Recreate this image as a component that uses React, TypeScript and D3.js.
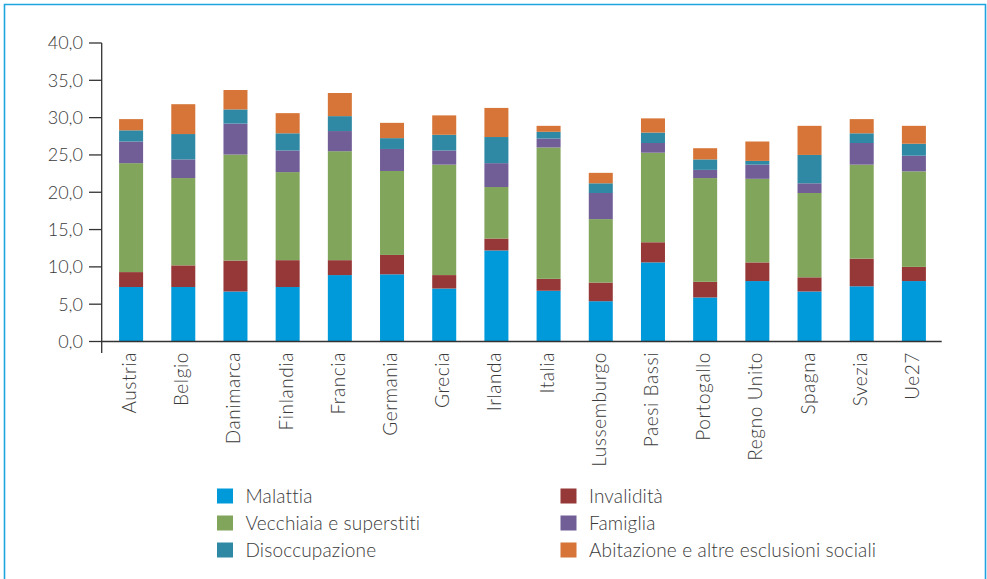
import React from "react";
import * as d3 from "d3";

const categories = [
  "Austria", "Belgio", "Danimarca", "Finlandia", "Francia", "Germania", "Grecia", "Irlanda",
  "Italia", "Lussemburgo", "Paesi Bassi", "Portogallo", "Regno Unito", "Spagna", "Svezia", "Ue27",
];

const malattia = [7.3, 7.3, 6.7, 7.3, 8.9, 9.0, 7.1, 12.2, 6.8, 5.4, 10.6, 5.9, 8.1, 6.7, 7.4, 8.1];
const invalidita = [2.0, 2.9, 4.15, 3.6, 2.0, 2.6, 1.8, 1.6, 1.6, 2.5, 2.7, 2.1, 2.5, 1.9, 3.7, 1.9];
const vecchiaia = [14.6, 11.7, 14.2, 11.8, 14.6, 11.25, 14.8, 6.9, 17.6, 8.5, 12.0, 13.9, 11.2, 11.3, 12.6, 12.8];
const famiglia = [2.9, 2.5, 4.15, 2.9, 2.7, 2.95, 1.9, 3.2, 1.2, 3.5, 1.3, 1.1, 1.9, 1.3, 2.9, 2.1];
const disoccupazione = [1.5, 3.4, 1.9, 2.3, 2.0, 1.45, 2.1, 3.5, 0.9, 1.3, 1.4, 1.4, 0.5, 3.8, 1.3, 1.6];
const abitazione = [1.5, 4.0, 2.6, 2.7, 3.1, 2.05, 2.6, 3.9, 0.8, 1.4, 1.9, 1.5, 2.6, 3.9, 1.9, 2.4];

const yTicks = [0, 5, 10, 15, 20, 25, 30, 35, 40];

const seriesNames = [
  "Malattia",
  "Invalidità",
  "Vecchiaia e superstiti",
  "Famiglia",
  "Disoccupazione",
  "Abitazione e altre esclusioni sociali",
];
const seriesValues = [malattia, invalidita, vecchiaia, famiglia, disoccupazione, abitazione];
const seriesColors = ["#009ada", "#963838", "#82a55c", "#715e97", "#2f89a4", "#d67537"];

// legend layout: column-major order as in the reference
const legendOrder = [0, 2, 4, 1, 3, 5];

const FONT = "Lato, 'Open Sans', sans-serif";
const TEXT = "#3a3a3a";

export default function App() {
  const W = 987;
  const H = 579;

  const x = d3
    .scaleBand<string>()
    .domain(categories)
    .range([105, 940])
    .paddingInner(0.54)
    .paddingOuter(0.27);

  const y = d3.scaleLinear().domain([0, 40]).range([341.5, 43]);

  const rows = categories.map((c, i) => {
    const r: any = { cat: c };
    seriesNames.forEach((s, k) => (r[s] = seriesValues[k][i]));
    return r;
  });
  const stacked = d3.stack<any>().keys(seriesNames)(rows);

  const axisX0 = 101.7;
  const axisX1 = 941.7;
  const fmt = (v: number) => v.toFixed(1).replace(".", ",");

  return (
    <svg
      width={W}
      height={H}
      style={{ position: "absolute", left: 0, top: 0, background: "#fff" }}
      fontFamily={FONT}
    >
      <rect x={0} y={0} width={W} height={H} fill="#fff" />
      {/* frame */}
      <path
        d={`M4.5,${H + 2} L4.5,4.5 L985.5,4.5 L985.5,${H + 2}`}
        fill="none"
        stroke="#1ea5e0"
        strokeWidth={1.6}
      />

      {/* bars */}
      {stacked.map((layer, k) => (
        <g key={k} fill={seriesColors[k]}>
          {layer.map((d, i) => (
            <rect
              key={i}
              x={x(categories[i])}
              y={y(d[1])}
              width={x.bandwidth()}
              height={y(d[0]) - y(d[1])}
            />
          ))}
        </g>
      ))}

      {/* y axis */}
      <g stroke="#333" strokeWidth={1.3}>
        <line x1={axisX0} x2={axisX0} y1={y(40)} y2={353} />
        {yTicks.map((t) => (
          <line key={t} x1={89} x2={axisX0} y1={y(t)} y2={y(t)} />
        ))}
        <line x1={axisX0} x2={axisX1} y1={y(0)} y2={y(0)} />
      </g>
      {yTicks.map((t) => (
        <text
          key={t}
          x={83}
          y={y(t)}
          dy="0.36em"
          textAnchor="end"
          fontSize={18}
          fontWeight={300}
          fill={TEXT}
        >
          {fmt(t)}
        </text>
      ))}

      {/* category labels */}
      {categories.map((c) => {
        const cx = (x(c) as number) + x.bandwidth() / 2;
        return (
          <text
            key={c}
            transform={`translate(${cx + 5},352) rotate(-90)`}
            textAnchor="end"
            fontSize={19}
            letterSpacing={0.6}
            fontWeight={300}
            fill={TEXT}
          >
            {c}
          </text>
        );
      })}

      {/* legend */}
      {legendOrder.map((k, idx) => {
        const col = Math.floor(idx / 3);
        const row = idx % 3;
        const lx = col === 0 ? 217 : 560.5;
        const ly = 496.5 + row * 27;
        return (
          <g key={k}>
            <rect x={lx} y={ly - 8} width={16} height={15} fill={seriesColors[k]} />
            <text
              x={lx + 28.5}
              y={ly}
              dy="0.36em"
              fontSize={19}
              letterSpacing={0.15}
              fontWeight={300}
              fill={TEXT}
            >
              {seriesNames[k]}
            </text>
          </g>
        );
      })}
    </svg>
  );
}
